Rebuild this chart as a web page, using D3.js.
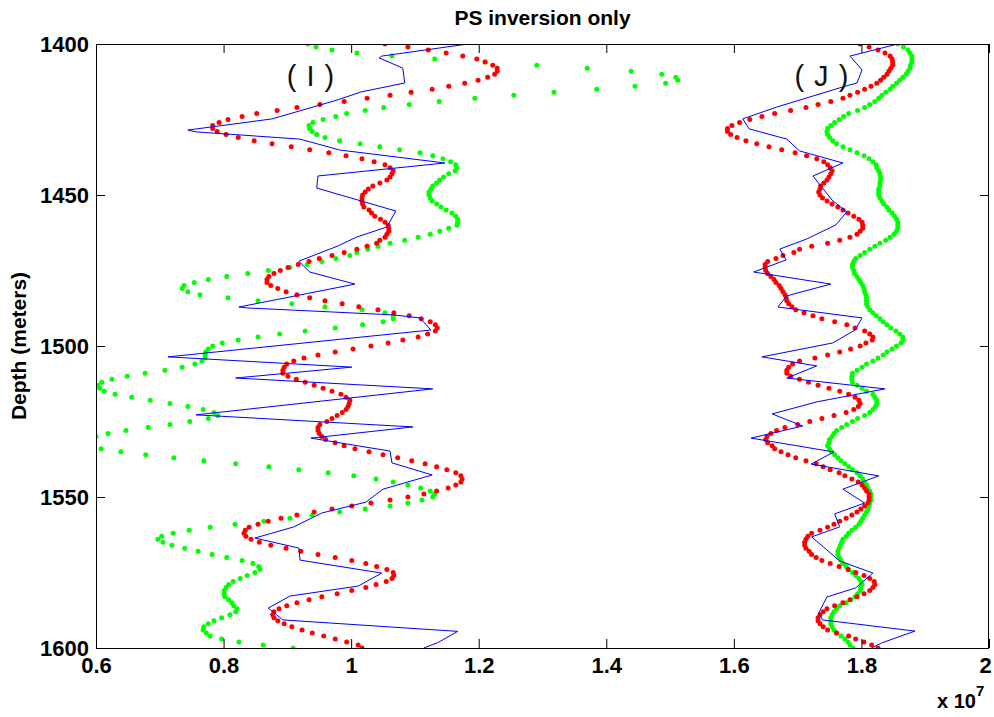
<!DOCTYPE html>
<html>
<head>
<meta charset="utf-8">
<title>PS inversion only</title>
<script src="https://cdn.jsdelivr.net/npm/d3@7/dist/d3.min.js"></script>
<style>
  html, body { margin: 0; padding: 0; background: #fff; }
  svg { display: block; }
</style>
</head>
<body>
<div id="chart"></div>
<script>
// Depth sampling of the dotted curves (metres)
const depthStart = 1400;
const depthStep = 1;

// Impedance, units of 1e7 — panel (I)
const redI = [
  1.053,1.089,1.121,1.149,1.175,1.197,1.210,1.222,1.229,1.229,
  1.225,1.214,1.199,1.178,1.153,1.127,1.094,1.061,1.025,0.989,
  0.951,0.915,0.884,0.852,0.829,0.807,0.793,0.783,0.783,0.790,
  0.804,0.823,0.848,0.876,0.906,0.935,0.965,0.992,1.017,1.036,
  1.053,1.061,1.066,1.064,1.061,1.056,1.045,1.034,1.027,1.022,
  1.018,1.017,1.017,1.018,1.020,1.028,1.032,1.037,1.046,1.053,
  1.058,1.059,1.059,1.056,1.053,1.045,1.040,1.025,1.009,0.989,
  0.970,0.950,0.934,0.917,0.901,0.889,0.879,0.871,0.868,0.868,
  0.874,0.885,0.898,0.915,0.935,0.959,0.986,1.012,1.042,1.067,
  1.091,1.110,1.124,1.132,1.135,1.132,1.120,1.105,1.081,1.058,
  1.031,1.003,0.975,0.948,0.926,0.910,0.899,0.895,0.893,0.893,
  0.901,0.914,0.928,0.942,0.956,0.970,0.984,0.992,0.998,0.997,
  0.995,0.992,0.986,0.978,0.970,0.962,0.951,0.948,0.948,0.950,
  0.954,0.960,0.975,0.989,1.006,1.028,1.050,1.073,1.095,1.116,
  1.134,1.150,1.164,1.172,1.174,1.172,1.164,1.152,1.134,1.114,
  1.089,1.061,1.031,1.001,0.970,0.942,0.915,0.890,0.870,0.854,
  0.840,0.834,0.832,0.835,0.843,0.856,0.874,0.898,0.921,0.948,
  0.975,1.001,1.023,1.040,1.056,1.066,1.067,1.064,1.055,1.039,
  1.023,1.001,0.978,0.954,0.934,0.915,0.899,0.887,0.879,0.877,
  0.879,0.885,0.895,0.907,0.923,0.939,0.957,0.975,0.993,1.011,
  1.017
];

const greenI = [
  0.932,0.945,0.970,1.009,1.064,1.131,1.210,1.291,1.370,1.439,
  1.487,1.509,1.512,1.493,1.445,1.385,1.318,1.255,1.194,1.138,
  1.091,1.051,1.022,0.993,0.976,0.956,0.940,0.934,0.935,0.939,
  0.946,0.959,0.982,1.014,1.045,1.076,1.108,1.128,1.144,1.156,
  1.164,1.166,1.163,1.153,1.145,1.139,1.134,1.128,1.125,1.122,
  1.122,1.124,1.127,1.134,1.141,1.149,1.158,1.164,1.167,1.167,
  1.166,1.153,1.139,1.124,1.105,1.084,1.061,1.042,1.026,1.009,
  0.998,0.976,0.954,0.931,0.904,0.870,0.838,0.805,0.776,0.754,
  0.738,0.735,0.744,0.763,0.807,0.854,0.907,0.959,1.017,1.053,
  1.066,1.066,1.050,1.018,0.975,0.928,0.888,0.854,0.823,0.798,
  0.783,0.776,0.772,0.771,0.771,0.766,0.755,0.735,0.708,0.677,
  0.649,0.625,0.609,0.603,0.606,0.613,0.630,0.656,0.685,0.716,
  0.744,0.768,0.785,0.791,0.776,0.747,0.716,0.682,0.647,0.619,
  0.600,0.587,0.583,0.591,0.608,0.639,0.678,0.722,0.769,0.819,
  0.871,0.918,0.964,1.004,1.039,1.066,1.089,1.109,1.124,1.131,
  1.128,1.111,1.089,1.061,1.022,0.982,0.939,0.904,0.863,0.818,
  0.779,0.746,0.721,0.703,0.697,0.705,0.719,0.739,0.760,0.782,
  0.805,0.829,0.846,0.855,0.857,0.849,0.837,0.826,0.815,0.808,
  0.804,0.801,0.801,0.802,0.808,0.813,0.816,0.821,0.819,0.810,
  0.797,0.785,0.776,0.769,0.768,0.773,0.779,0.797,0.824,0.862,
  0.909
];

// Well-log trace, panel (I): vertices as depth / value pairs
const blueIDepth = [
  1400.0,1404.0,1404.6,1408.0,1412.9,1415.9,1418.5,1424.8,1428.5,1429.1,
  1431.5,1435.1,1439.4,1443.7,1447.7,1455.3,1460.6,1463.9,1466.9,1471.9,
  1475.5,1479.5,1487.1,1487.4,1489.7,1490.7,1494.7,1503.6,1507.0,1510.6,
  1514.2,1522.8,1526.8,1530.5,1534.8,1538.7,1542.7,1547.4,1551.7,1555.3,
  1559.9,1563.6,1566.9,1570.9,1575.2,1579.5,1582.8,1586.8,1590.7,1594.5,
  1598.2,1600.0
];
const blueIValue = [
  1.183,1.048,1.044,1.081,1.084,1.015,0.979,0.876,0.744,0.757,
  0.920,0.982,1.147,0.948,0.946,1.070,1.056,1.009,0.979,0.918,
  0.935,1.006,0.824,0.837,1.066,1.108,1.125,0.713,1.001,0.819,
  1.128,0.757,1.097,0.937,1.061,1.064,1.127,1.050,1.023,0.954,
  0.910,0.849,0.918,0.920,1.048,1.011,0.904,0.870,0.893,1.167,
  1.136,1.114
];

// Panel (J)
const redJ = [
  1.798,1.812,1.826,1.837,1.845,1.848,1.849,1.849,1.846,1.843,
  1.840,1.835,1.830,1.824,1.815,1.805,1.794,1.782,1.771,1.752,
  1.732,1.713,1.689,1.664,1.644,1.625,1.609,1.597,1.590,1.590,
  1.595,1.605,1.619,1.636,1.655,1.675,1.696,1.714,1.730,1.741,
  1.747,1.751,1.754,1.752,1.749,1.746,1.741,1.736,1.735,1.733,
  1.735,1.739,1.746,1.754,1.763,1.771,1.779,1.788,1.796,1.801,
  1.802,1.802,1.798,1.793,1.782,1.766,1.747,1.722,1.703,1.694,
  1.677,1.666,1.653,1.649,1.649,1.650,1.653,1.658,1.663,1.666,
  1.671,1.674,1.677,1.680,1.682,1.683,1.686,1.691,1.697,1.710,
  1.724,1.738,1.758,1.777,1.790,1.805,1.813,1.818,1.817,1.807,
  1.798,1.783,1.766,1.747,1.727,1.703,1.692,1.686,1.683,1.683,
  1.689,1.703,1.717,1.732,1.749,1.766,1.780,1.790,1.796,1.798,
  1.795,1.788,1.776,1.757,1.738,1.719,1.700,1.680,1.667,1.658,
  1.652,1.650,1.653,1.660,1.664,1.674,1.685,1.697,1.713,1.729,
  1.740,1.751,1.765,1.774,1.785,1.795,1.801,1.805,1.808,1.812,
  1.812,1.812,1.810,1.805,1.799,1.793,1.785,1.776,1.766,1.757,
  1.747,1.735,1.722,1.716,1.713,1.711,1.711,1.713,1.718,1.722,
  1.729,1.738,1.751,1.765,1.779,1.791,1.804,1.813,1.820,1.821,
  1.818,1.813,1.804,1.793,1.782,1.771,1.758,1.746,1.740,1.735,
  1.732,1.732,1.735,1.740,1.747,1.761,1.780,1.791,1.804,1.816,
  1.826
];

const greenJ = [
  1.857,1.866,1.873,1.876,1.879,1.879,1.879,1.877,1.876,1.873,
  1.870,1.865,1.860,1.855,1.849,1.845,1.838,1.832,1.827,1.821,
  1.813,1.805,1.794,1.780,1.772,1.765,1.758,1.752,1.747,1.746,
  1.747,1.750,1.755,1.761,1.771,1.782,1.793,1.804,1.812,1.818,
  1.823,1.824,1.827,1.829,1.830,1.830,1.829,1.829,1.827,1.827,
  1.827,1.829,1.832,1.835,1.840,1.843,1.848,1.852,1.855,1.857,
  1.857,1.857,1.855,1.851,1.845,1.838,1.829,1.821,1.813,1.805,
  1.798,1.791,1.788,1.786,1.786,1.788,1.789,1.793,1.796,1.799,
  1.802,1.804,1.805,1.807,1.808,1.808,1.808,1.810,1.813,1.818,
  1.823,1.829,1.834,1.840,1.846,1.854,1.860,1.865,1.865,1.862,
  1.855,1.848,1.840,1.834,1.826,1.818,1.808,1.801,1.793,1.786,
  1.785,1.785,1.786,1.793,1.801,1.808,1.818,1.821,1.824,1.824,
  1.822,1.818,1.813,1.805,1.794,1.786,1.777,1.769,1.761,1.757,
  1.754,1.750,1.749,1.747,1.750,1.753,1.758,1.763,1.768,1.774,
  1.780,1.786,1.793,1.798,1.802,1.805,1.808,1.810,1.813,1.815,
  1.815,1.815,1.813,1.812,1.810,1.808,1.805,1.802,1.799,1.796,
  1.791,1.785,1.780,1.776,1.771,1.769,1.767,1.765,1.763,1.763,
  1.765,1.768,1.771,1.776,1.780,1.786,1.791,1.796,1.799,1.801,
  1.799,1.798,1.794,1.790,1.783,1.776,1.766,1.761,1.757,1.754,
  1.752,1.752,1.752,1.754,1.757,1.761,1.768,1.774,1.779,1.782,
  1.787
];

const blueJDepth = [
  1400.0,1404.0,1408.6,1412.9,1414.2,1420.9,1424.8,1428.1,1431.5,1435.4,
  1439.4,1443.7,1451.7,1455.6,1459.9,1464.6,1467.9,1471.5,1475.5,1479.5,
  1483.4,1487.1,1490.7,1494.7,1499.0,1503.6,1506.6,1510.6,1514.2,1518.5,
  1522.5,1526.5,1530.5,1535.1,1539.1,1543.0,1547.4,1552.0,1555.6,1559.9,
  1563.2,1571.2,1575.2,1580.1,1583.1,1588.4,1590.7,1594.4,1598.3,1600.0
];
const blueJValue = [
  1.857,1.782,1.801,1.793,1.771,1.667,1.614,1.624,1.683,1.703,
  1.771,1.724,1.754,1.777,1.760,1.714,1.672,1.682,1.631,1.752,
  1.683,1.669,1.801,1.790,1.755,1.644,1.730,1.683,1.837,1.730,
  1.660,1.708,1.627,1.757,1.721,1.827,1.771,1.805,1.758,1.766,
  1.722,1.766,1.818,1.791,1.746,1.733,1.739,1.884,1.832,1.816
];

// Axis ticks
const xTicks = [0.6, 0.8, 1, 1.2, 1.4, 1.6, 1.8, 2];
const yTicks = [1400, 1450, 1500, 1550, 1600];
const xDomain = [0.6, 2];
const yDomain = [1400, 1600];

const titleText = "PS inversion only";
const yLabelText = "Depth (meters)";
const panelLabels = [
  { text: "( I )", x: 0.937, depth: 1414 },
  { text: "( J )", x: 1.738, depth: 1414 }
];

// ---------------------------------------------------------------
const W = 994, H = 717;
const plot = { left: 96, right: 989, top: 44, bottom: 648 };
const font = '"Liberation Sans", Arial, Helvetica, sans-serif';

const svg = d3.select("#chart").append("svg")
  .attr("width", W).attr("height", H)
  .attr("viewBox", `0 0 ${W} ${H}`);

const x = d3.scaleLinear().domain(xDomain).range([plot.left, plot.right]);
const y = d3.scaleLinear().domain(yDomain).range([plot.top, plot.bottom]);

svg.append("defs").append("clipPath").attr("id", "plotClip")
  .append("rect")
  .attr("x", plot.left).attr("y", plot.top)
  .attr("width", plot.right - plot.left)
  .attr("height", plot.bottom - plot.top);

const layer = svg.append("g").attr("clip-path", "url(#plotClip)");

const asPoints = arr => arr.map((v, i) => ({ depth: depthStart + i * depthStep, v }));
const asVertices = (depths, vals) => depths.map((d, i) => ({ depth: d, v: vals[i] }));

const line = d3.line().x(d => x(d.v)).y(d => y(d.depth));

function dots(data, color) {
  layer.append("g")
    .selectAll("circle")
    .data(data)
    .join("circle")
    .attr("cx", d => x(d.v))
    .attr("cy", d => y(d.depth))
    .attr("r", 2.5)
    .attr("fill", color);
}

// initial models (green), inverted results (red), logs (blue)
dots(asPoints(greenI), "#00ff00");
dots(asPoints(greenJ), "#00ff00");
dots(asPoints(redI), "#ff0000");
dots(asPoints(redJ), "#ff0000");

[[blueIDepth, blueIValue], [blueJDepth, blueJValue]].forEach(([d, v]) => {
  layer.append("path")
    .datum(asVertices(d, v))
    .attr("fill", "none")
    .attr("stroke", "#0000ff")
    .attr("stroke-width", 1)
    .attr("d", line);
});

// Axes with inward ticks on all four sides
const tickLen = 9;
const fmt = d => String(d);

const gBottom = svg.append("g")
  .attr("transform", `translate(0,${plot.bottom})`)
  .call(d3.axisBottom(x).tickValues(xTicks).tickFormat(fmt)
    .tickSizeInner(-tickLen).tickSizeOuter(0).tickPadding(9));
const gTop = svg.append("g")
  .attr("transform", `translate(0,${plot.top})`)
  .call(d3.axisTop(x).tickValues(xTicks).tickFormat("")
    .tickSizeInner(-tickLen).tickSizeOuter(0));
const gLeft = svg.append("g")
  .attr("transform", `translate(${plot.left},0)`)
  .call(d3.axisLeft(y).tickValues(yTicks).tickFormat(fmt)
    .tickSizeInner(-tickLen).tickSizeOuter(0).tickPadding(7));
const gRight = svg.append("g")
  .attr("transform", `translate(${plot.right},0)`)
  .call(d3.axisRight(y).tickValues(yTicks).tickFormat("")
    .tickSizeInner(-tickLen).tickSizeOuter(0));

[gBottom, gTop, gLeft, gRight].forEach(g => {
  g.select(".domain").remove();
  g.selectAll(".tick line").attr("stroke", "#000").attr("stroke-width", 1);
  g.selectAll("text").attr("font-size", 22).attr("font-family", font)
    .attr("font-weight", "bold").attr("fill", "#000");
});
// keep the last x label inside the canvas
gBottom.selectAll(".tick text").filter(d => d === xDomain[1]).attr("dx", -4);

svg.append("rect")
  .attr("x", plot.left + 0.5).attr("y", plot.top + 0.5)
  .attr("width", plot.right - plot.left - 1)
  .attr("height", plot.bottom - plot.top)
  .attr("fill", "none").attr("stroke", "#000").attr("stroke-width", 1);

// Title
svg.append("text")
  .attr("x", (plot.left + plot.right) / 2).attr("y", 25)
  .attr("text-anchor", "middle")
  .attr("font-family", font).attr("font-weight", "bold").attr("font-size", 21)
  .text(titleText);

// Y label
svg.append("text")
  .attr("transform", `translate(26,${(plot.top + plot.bottom) / 2}) rotate(-90)`)
  .attr("text-anchor", "middle")
  .attr("font-family", font).attr("font-weight", "bold").attr("font-size", 21)
  .text(yLabelText);

// Exponent note under the x axis
const expo = svg.append("text")
  .attr("x", 937).attr("y", 708)
  .attr("font-family", font).attr("font-weight", "bold").attr("font-size", 20);
expo.append("tspan").text("x 10");
expo.append("tspan").attr("dy", -12).attr("font-size", 15).text("7");

// Panel labels
panelLabels.forEach(p => {
  svg.append("text")
    .attr("x", x(p.x)).attr("y", y(p.depth))
    .attr("text-anchor", "middle")
    .attr("font-family", font).attr("font-size", 29).attr("fill", "#111")
    .attr("letter-spacing", 1)
    .text(p.text);
});
</script>
</body>
</html>
